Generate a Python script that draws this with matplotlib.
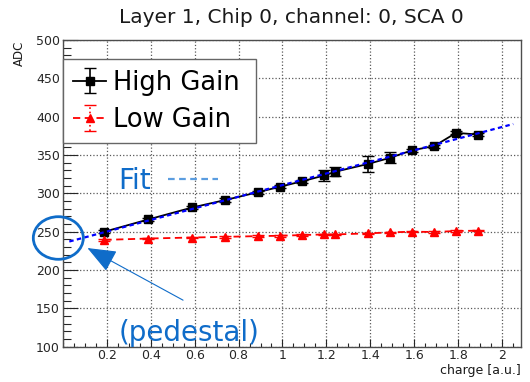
#!/usr/bin/env python

import numpy as np
import matplotlib
matplotlib.use("Agg")
import matplotlib.pyplot as plt
from matplotlib.patches import Ellipse, FancyArrowPatch
from matplotlib.ticker import MultipleLocator, FuncFormatter

# Values
charge = [0.19, 0.39, 0.59, 0.74, 0.89, 0.99, 1.09, 1.19, 1.24, 1.39, 1.49, 1.59, 1.69, 1.79, 1.89]
high_gain = [250.0, 266.0, 281.6, 291.3, 301.6, 308.7, 315.8, 323.3, 328.2, 338.4, 346.4, 356.2, 361.6, 378.9, 376.7]
high_err = [2.0, 2.0, 2.0, 2.0, 2.0, 2.0, 2.0, 7.8, 5.6, 10.4, 7.1, 2.0, 2.0, 2.0, 2.0]
low_gain = [239.3, 241.1, 242.4, 243.3, 244.2, 244.7, 245.6, 246.4, 246.4, 247.8, 249.1, 250.0, 249.6, 250.9, 251.3]
low_err = [1.0] * 15
fit_range = [0.03, 2.05]

title = "Layer 1, Chip 0, channel: 0, SCA 0"
note_blue = "#0f6cc9"


def px(x, y):
    # figure pixel (from top-left) -> figure fraction
    return x / 530.0, 1.0 - y / 382.0


def main():
    fig = plt.figure(figsize=(5.3, 3.82), dpi=100)
    ax = fig.add_axes([0.1183, 0.0924, 0.8642, 0.8029])

    # data
    eb_high = ax.errorbar(charge, high_gain, yerr=high_err, color="black", marker="s",
                          markersize=5.5, lw=1.3, capsize=4, elinewidth=1.2, zorder=3)
    eb_low = ax.errorbar(charge, low_gain, yerr=low_err, color="red", marker="^",
                         markersize=5.5, lw=1.3, ls=(0, (4, 2.5)), capsize=4,
                         elinewidth=1.2, zorder=3)
    for bar in eb_low[2]:
        bar.set_linestyle(":")

    # linear fit of the high gain points
    slope, icept = np.polyfit(charge, high_gain, 1)
    xf = np.array(fit_range)
    ax.plot(xf, icept + slope * xf, color="blue", lw=1.6, ls=(0, (2, 1.5)), zorder=4)

    ax.set_xlim(0, 2.084)
    ax.set_ylim(100, 500)
    ax.xaxis.set_major_locator(MultipleLocator(0.2))
    ax.xaxis.set_minor_locator(MultipleLocator(0.05))
    ax.yaxis.set_major_locator(MultipleLocator(50))
    ax.yaxis.set_minor_locator(MultipleLocator(10))
    ax.xaxis.set_major_formatter(FuncFormatter(lambda v, p: "" if abs(v) < 1e-9 else "%g" % round(v, 2)))
    ax.tick_params(which="both", direction="in", top=False, right=False, width=0.8,
                   labelsize=9, colors="0.15")
    ax.tick_params(axis="y", which="major", length=10.8, pad=2)
    ax.tick_params(axis="y", which="minor", length=5.4)
    ax.tick_params(axis="x", which="major", length=6, pad=1.5)
    ax.tick_params(axis="x", which="minor", length=3)
    for s in ax.spines.values():
        s.set_color("0.3")
        s.set_linewidth(1.0)
    ax.grid(True, which="major", ls=":", color="0.35", lw=0.9)
    ax.set_axisbelow(True)

    leg = ax.legend([eb_high, eb_low], ["High Gain", "Low Gain"], loc="upper left",
                    bbox_to_anchor=(0, 0.663, 0.421, 0.274), mode="expand",
                    borderaxespad=0, fontsize=18.5, fancybox=False, framealpha=1,
                    edgecolor="0.4", handlelength=1.3, handletextpad=0.25,
                    borderpad=0.4, labelspacing=0.45)
    leg.get_frame().set_linewidth(1.0)

    # texts
    fig.text(*px(291.5, 23), title, ha="center", va="baseline", fontsize=14.5, color="0.1")
    fig.text(*px(19.5, 40.6), "ADC", rotation=90, ha="center", va="top", fontsize=8.5, color="0.1")
    fig.text(*px(520.6, 364), "charge [a.u.]", ha="right", va="top", fontsize=9, color="0.1")

    # annotations
    fig.text(*px(118.3, 189), "Fit", ha="left", va="baseline", fontsize=20, color=note_blue)
    x0, y0 = px(168.3, 179)
    x1, _ = px(218.3, 179)
    fig.add_artist(plt.Line2D([x0, x1], [y0, y0], transform=fig.transFigure,
                              color="#5b9de0", lw=1.6, ls=(0, (3, 2))))
    fig.text(*px(118.3, 341), "(pedestal)", ha="left", va="baseline", fontsize=20, color=note_blue)
    cx, cy = px(58.3, 238)
    fig.add_artist(Ellipse((cx, cy), 50 / 530.0, 42.6 / 382.0, transform=fig.transFigure,
                           fill=False, edgecolor=note_blue, lw=2.0))
    fig.add_artist(FancyArrowPatch(px(185.5, 301.5), px(85, 246.7), transform=fig.transFigure,
                                   arrowstyle="-|>,head_length=1.8,head_width=0.72",
                                   mutation_scale=10, color=note_blue, lw=0.8))

    fig.savefig("out.png", dpi=100)


if __name__ == "__main__":
    main()
